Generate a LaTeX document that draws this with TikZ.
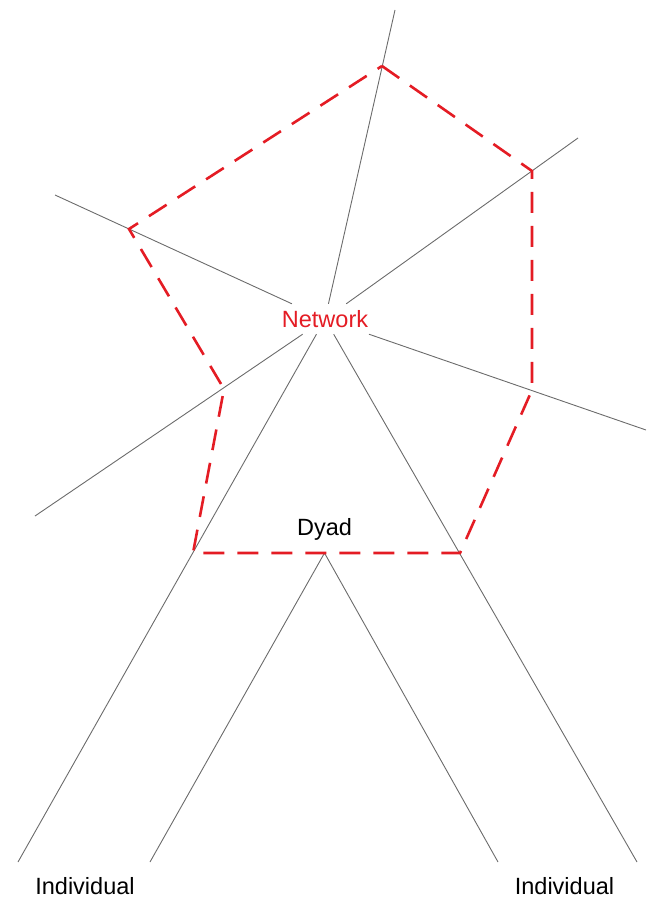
\documentclass[tikz,border=0pt]{standalone}
\usepackage{fontspec}
\setmainfont{Liberation Sans}
\usetikzlibrary{calc}

\begin{document}
\begin{tikzpicture}[x=1pt, y=-1pt,
    spoke/.style={draw=black!58, line width=0.9pt},
    boundary/.style={draw={rgb,255:red,228;green,28;blue,36}, line width=2.6pt, dash pattern=on 21pt off 13pt},
    lbl/.style={font=\fontsize{23.5}{28}\selectfont, inner sep=0pt}]
  \useasboundingbox (0,0) rectangle (646,899);
  % labels
  \node[lbl, text={rgb,255:red,228;green,28;blue,36}, minimum width=98pt, minimum height=30pt] (net) at (325,319) {Network};
  \node[lbl, anchor=base] (dyad) at (324.5,535) {Dyad};
  \node[lbl, anchor=base] (indl) at (85,894) {Individual};
  \node[lbl, anchor=base] (indr) at (564.5,894) {Individual};
  % free ends of the spokes
  \coordinate (top) at (395,10);
  \coordinate (ul) at (55,195);
  \coordinate (ur) at (578,138);
  \coordinate (rt) at (646,430);
  \coordinate (ll) at (35,516);
  \coordinate (dl) at (18,862);
  \coordinate (dr) at (637,862);
  % dyad apex and its two legs
  \coordinate (apex) at (324.5,553);
  \coordinate (al) at (150,862);
  \coordinate (ar) at (498,862);
  % spokes out of the network
  \foreach \e in {top,ul,ur,rt,ll,dl,dr} \draw[spoke] (net) -- (\e);
  \draw[spoke] (al) -- (apex) -- (ar);
  % network boundary
  \coordinate (b1) at (382,66);
  \coordinate (b2) at (532,171);
  \coordinate (b3) at (532,390);
  \coordinate (b4) at (460,553);
  \coordinate (b5) at (193,553);
  \coordinate (b6) at (224,389);
  \coordinate (b7) at (129,229);
  \draw[boundary] (b1) -- (b2) -- (b3) -- (b4) -- (apex) -- (b5) -- (b6) -- (b7) -- cycle;
\end{tikzpicture}
\end{document}
